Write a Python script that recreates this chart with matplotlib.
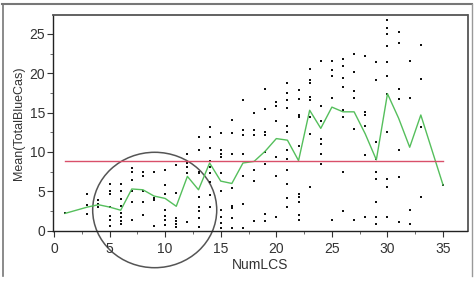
import matplotlib
matplotlib.use("Agg")
import matplotlib.pyplot as plt
from matplotlib.patches import Ellipse
from matplotlib.lines import Line2D
from matplotlib.ticker import MultipleLocator

plt.rcParams['font.family'] = ['Liberation Sans', 'DejaVu Sans']

# ---- data ----
lcs_values = [1, 3, 4, 5, 6, 7, 8, 9, 10, 11, 12, 13, 14, 15, 16, 17, 18,
              19, 20, 21, 22, 23, 24, 25, 26, 27, 28, 29, 30, 31, 32, 33, 35]
blue_cas = [
    [2.2],
    [4.7, 3.3, 2.1],
    [3.9, 3.4, 3.0],
    [5.9, 5.0, 4.7, 3.0, 1.9, 1.4, 0.6],
    [5.9, 5.0, 4.0, 3.2, 2.3, 1.8, 1.2, 0.8],
    [8.0, 7.5, 6.4, 5.0, 3.7, 1.4],
    [7.4, 6.9, 5.0, 3.7, 2.0],
    [7.4, 4.2, 3.9, 0.6],
    [7.7, 5.8, 4.6, 2.6, 1.9, 1.4, 0.7],
    [8.3, 4.8, 1.6, 1.2, 0.9, 0.5],
    [9.8, 8.6, 8.1, 7.3, 1.1],
    [11.9, 10.3, 7.5, 7.3, 4.3, 3.0, 2.5, 1.6, 0.5],
    [13.2, 11.9, 10.5, 8.8, 8.1, 7.3, 6.2, 4.5, 3.0],
    [12.4, 10.2, 9.8, 9.4, 7.3, 5.0, 2.6, 1.8, 1.0, 0.4],
    [14.1, 12.4, 9.8, 5.4, 3.2, 2.9, 1.6, 0.4],
    [16.6, 12.8, 12.2, 9.8, 6.9, 3.4, 0.4],
    [15.0, 12.8, 12.2, 7.7, 6.3, 1.2],
    [18.0, 15.5, 12.6, 12.2, 10.0, 8.5, 2.1, 1.2],
    [16.4, 15.8, 13.9, 9.4, 6.9, 1.8],
    [18.8, 17.5, 16.6, 15.6, 13.3, 12.5, 10.2, 9.1, 7.7, 5.9, 4.2, 3.0],
    [17.9, 16.7, 14.7, 14.5, 10.7, 4.7, 4.3, 3.6, 2.0, 1.4],
    [20.6, 19.2, 18.7, 17.0, 16.6, 14.5, 12.3, 5.5],
    [21.5, 15.8, 13.9, 11.7, 11.0, 9.8, 8.5],
    [21.5, 20.4, 19.6, 16.8, 1.3],
    [21.8, 20.9, 19.4, 18.3, 15.3, 14.4, 7.4, 2.5],
    [22.5, 20.1, 17.8, 16.9, 12.9, 1.4],
    [22.2, 15.1, 14.7, 13.3, 9.6, 1.7],
    [21.4, 19.1, 11.3, 9.1, 7.4, 6.6, 3.7, 1.75, 0.9],
    [26.8, 25.7, 25.0, 23.5, 21.4, 19.6, 17.4, 12.5, 6.6, 5.6, 1.7],
    [25.2, 23.9, 18.0, 16.7, 10.2, 6.8, 1.15],
    [21.6, 16.8, 2.6, 0.9],
    [23.6, 19.3, 13.2, 4.3],
    [5.8],
]
mean_blue_cas = [2.2, 3.0, 3.3, 3.0, 2.6, 5.3, 5.2, 4.4, 4.1, 3.1, 6.9, 5.2,
                 8.6, 6.3, 6.0, 8.6, 8.8, 10.1, 11.7, 11.5, 8.9, 15.3, 13.0,
                 15.7, 15.1, 15.1, 12.3, 9.0, 17.4, 14.3, 10.6, 14.7, 5.8]
overall_mean = 8.9
x_ticks = [0, 5, 10, 15, 20, 25, 30, 35]
y_ticks = [0, 5, 10, 15, 20, 25]

W, H = 474, 289
fig = plt.figure(figsize=(W / 100, H / 100), dpi=100)
ax = fig.add_axes([53 / W, 1 - 230.7 / H, (467.5 - 53) / W, (230.7 - 15) / H])

sx, sy = [], []
for xv, ys in zip(lcs_values, blue_cas):
    for yv in ys:
        sx.append(xv)
        sy.append(yv)
ax.plot(sx, sy, linestyle='none', marker='s', ms=1.8, color='#111111', mew=0)

ax.plot(lcs_values, mean_blue_cas, color='#55bf5c', lw=1.0)
ax.plot([lcs_values[0], lcs_values[-1]], [overall_mean, overall_mean],
        color='#d9506a', lw=1.0)

ax.set_xlim(-0.09, 37.2)
ax.set_ylim(0, 27.4)
ax.set_xticks(x_ticks)
ax.set_yticks(y_ticks)
ax.xaxis.set_minor_locator(MultipleLocator(2.5))
ax.yaxis.set_minor_locator(MultipleLocator(2.5))
ax.tick_params(which='major', direction='out', length=4.5, width=0.8,
               labelsize=10, colors='#333333')
ax.tick_params(axis='x', which='major', pad=3.3)
ax.tick_params(axis='y', which='major', pad=1.3)
ax.tick_params(which='minor', direction='out', length=2.5, width=0.6,
               colors='#555555')
for s in ['left', 'bottom']:
    ax.spines[s].set_color('#222222')
    ax.spines[s].set_linewidth(1.0)
for s in ['top', 'right']:
    ax.spines[s].set_color('#555555')
    ax.spines[s].set_linewidth(1.3)

ax.set_xlabel('NumLCS', fontsize=10, color='#333333', labelpad=1.5)
ax.set_ylabel('Mean(TotalBlueCas)', fontsize=9, color='#333333', labelpad=3)

# hand-drawn circle annotation
ell = Ellipse((9.06, 2.63), 11.16, 14.66, fill=False, edgecolor='#555555',
              lw=1.1, clip_on=False)
ax.add_patch(ell)

# outer frame of the screenshot
fc = '#777777'
fig.add_artist(Line2D([2 / W, 472 / W], [1 - 4 / H, 1 - 4 / H],
                      color=fc, lw=1.5, transform=fig.transFigure))
fig.add_artist(Line2D([3 / W, 3 / W], [1 - 4 / H, 1 - 276 / H],
                      color=fc, lw=1.2, transform=fig.transFigure))
fig.add_artist(Line2D([471.5 / W, 471.5 / W], [1 - 4 / H, 1 - 276 / H],
                      color='#999999', lw=1.0, transform=fig.transFigure))

fig.savefig('out.png', dpi=100)
